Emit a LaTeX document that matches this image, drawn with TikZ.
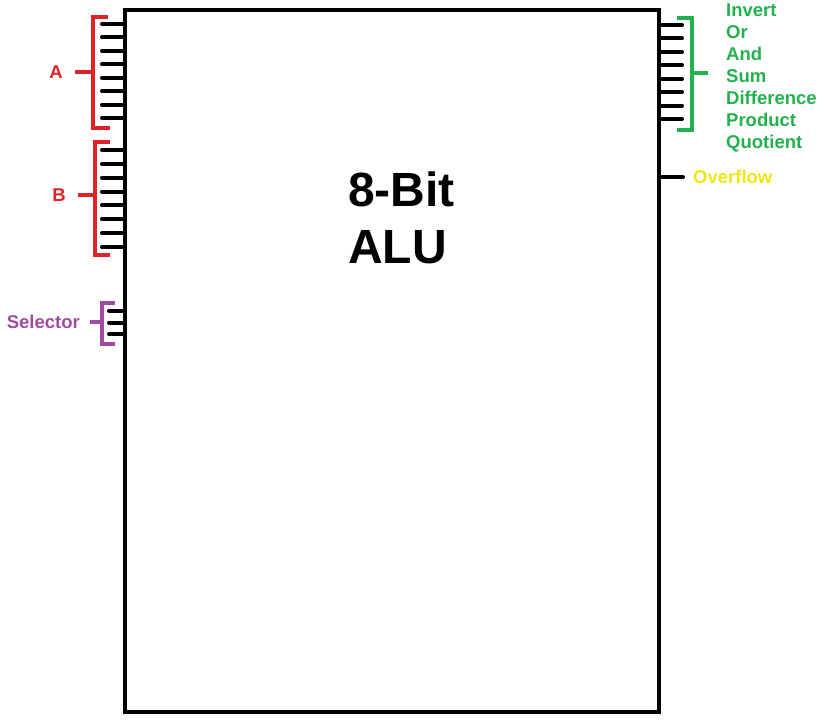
\documentclass[tikz,border=0pt]{standalone}
\usepackage{fontspec}
\setmainfont{Liberation Sans}
\usetikzlibrary{positioning}

\definecolor{paintred}{RGB}{226,32,40}
\definecolor{paintgreen}{RGB}{34,177,76}
\definecolor{paintpurple}{RGB}{163,73,164}
\definecolor{paintyellow}{RGB}{240,230,20}

\begin{document}
\begin{tikzpicture}[
        x=1pt, y=-1pt,
        alu/.style={rectangle, draw, line width=4pt, minimum width=534pt, minimum height=702pt, inner sep=0pt},
        pin/.style={line width=4pt, line cap=round},
        brace/.style={line width=4pt},
        lbl/.style={inner sep=0pt, font=\fontsize{18.5}{22}\selectfont\bfseries},
        title/.style={inner sep=0pt, align=left, font=\fontsize{48}{57}\selectfont\bfseries}
        ]
        \useasboundingbox (0,0) rectangle (824,727);
        \node[alu] (alu) at (392,361) {};
        \node[title, anchor=west] (name) at (348,218) {8-Bit\\ALU};

        % inputs A
        \foreach \i in {0,...,7}
            \coordinate (a\i) at (102,{24+\i*13.43});
        \foreach \i in {0,...,7}
            \draw[pin] (a\i) -- (a\i -| alu.west);
        \draw[brace, paintred] (108,17) -- (93,17) -- (93,128) -- (110,128);
        \coordinate (ba) at (93,72);
        \node[lbl, paintred, anchor=east] (inA) at (63,72) {A};
        \draw[brace, paintred, shorten >=12pt] (ba) -- (inA.east);

        % inputs B
        \foreach \i in {0,...,7}
            \coordinate (b\i) at (102,{150+\i*13.86});
        \foreach \i in {0,...,7}
            \draw[pin] (b\i) -- (b\i -| alu.west);
        \draw[brace, paintred] (110,142) -- (95,142) -- (95,255) -- (110,255);
        \coordinate (bb) at (95,195);
        \node[lbl, paintred, anchor=east] (inB) at (66,195) {B};
        \draw[brace, paintred, shorten >=12pt] (bb) -- (inB.east);

        % selector
        \foreach \i in {0,1,2}
            \coordinate (s\i) at (109,{311+\i*11.5});
        \foreach \i in {0,1,2}
            \draw[pin] (s\i) -- (s\i -| alu.west);
        \draw[brace, paintpurple] (115,303) -- (102,303) -- (102,344) -- (115,344);
        \coordinate (bs) at (102,322);
        \node[lbl, paintpurple, anchor=east] (sel) at (80,322) {Selector};
        \draw[brace, paintpurple, shorten >=10pt] (bs) -- (sel.east);

        % outputs
        \foreach \i in {0,...,7}
            \coordinate (o\i) at (682,{25+\i*13.43});
        \foreach \i in {0,...,7}
            \draw[pin] (o\i -| alu.east) -- (o\i);
        \draw[brace, paintgreen] (677,18) -- (692,18) -- (692,130) -- (677,130);
        \coordinate (bo) at (692,73);
        \node[lbl, paintgreen, anchor=north west, align=left] (ops) at (726,4)
            {Invert\\Or\\And\\Sum\\Difference\\Product\\Quotient};
        \draw[brace, paintgreen, shorten >=18pt] (bo) -- (bo -| ops.west);

        % overflow
        \node[lbl, paintyellow, anchor=west] (ovf) at (693,177) {Overflow};
        \draw[pin] (ovf.west -| alu.east) -- (ovf.west) [shorten >=10pt];
    \end{tikzpicture}
\end{document}
